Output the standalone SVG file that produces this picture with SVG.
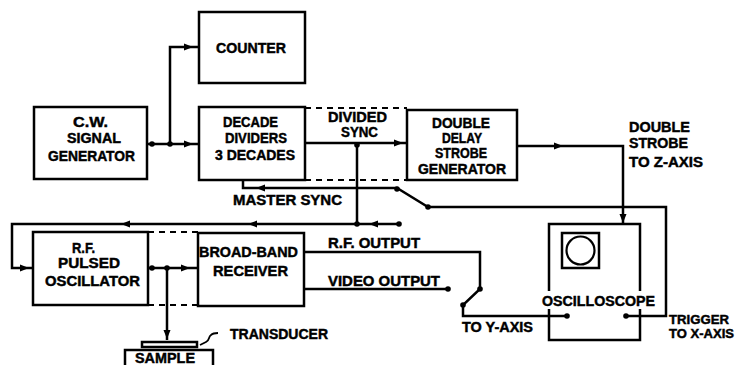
<svg xmlns="http://www.w3.org/2000/svg" xmlns:xlink="http://www.w3.org/1999/xlink" width="736" height="365" viewBox="0 0 736 365">
<style>
.box{fill:none;stroke:#000;stroke-width:2.5}
.ln{fill:none;stroke:#000;stroke-width:2.5;stroke-linejoin:miter}
.dash{fill:none;stroke:#000;stroke-width:2;stroke-dasharray:6 5}
.t{font-family:"Liberation Sans",Arial,sans-serif;font-weight:bold;font-size:14.5px;fill:#000;stroke:#000;stroke-width:0.45}
.s{font-size:13px}
.dot{fill:#000}
</style>
<defs>
<path id="ah" d="M0,0 L-9,-3.5 L-9,3.5 Z" fill="#000"/>
</defs>
<rect width="736" height="365" fill="#fff"/>

<g id="connectors">
<path class="ln" d="M147,144 H199 M170,144 V47 H199"/>
<use xlink:href="#ah" transform="translate(193,47)"/>
<use xlink:href="#ah" transform="translate(193,144)"/>
<circle class="dot" cx="152" cy="144" r="2.8"/>
<circle class="dot" cx="170" cy="144" r="2.8"/>
<path class="ln" d="M305,143 H407 M357,143 V224"/>
<use xlink:href="#ah" transform="translate(403,143)"/>
<circle class="dot" cx="357" cy="145" r="2.8"/>
<path class="dash" d="M305,108 H407 M305,180 H407"/>
<path class="ln" d="M517,146 H623 V224"/>
<use xlink:href="#ah" transform="translate(563,146)"/>
<use xlink:href="#ah" transform="translate(623,223) rotate(90)"/>
<path class="ln" d="M243,180 V188 H397 L428,207 H666 V316 H626"/>
<use xlink:href="#ah" transform="translate(256,188) rotate(180)"/>
<circle class="dot" cx="397" cy="189" r="2.8"/>
<circle class="dot" cx="428" cy="207" r="2.8"/>
<circle class="dot" cx="626" cy="316" r="2.8"/>
<path class="ln" d="M399,224 H12 V268 H33"/>
<circle class="dot" cx="399" cy="224" r="2.8"/>
<circle class="dot" cx="357" cy="224" r="2.8"/>
<use xlink:href="#ah" transform="translate(369,224) rotate(180)"/>
<use xlink:href="#ah" transform="translate(248,224) rotate(180)"/>
<use xlink:href="#ah" transform="translate(121,224) rotate(180)"/>
<use xlink:href="#ah" transform="translate(29,268)"/>
<path class="ln" d="M148,268 H198 M167,268 V340"/>
<circle class="dot" cx="152" cy="268" r="2.8"/>
<circle class="dot" cx="167" cy="268" r="2.8"/>
<use xlink:href="#ah" transform="translate(190,268)"/>
<use xlink:href="#ah" transform="translate(167,339) rotate(90)"/>
<path class="dash" d="M148,232 H198 M148,305 H198"/>
<path class="ln" d="M304,252 H480 V289 L463,305 V316 H567"/>
<path class="ln" d="M304,289 H448"/>
<circle class="dot" cx="448" cy="289" r="2.8"/>
<circle class="dot" cx="480" cy="289" r="2.8"/>
<circle class="dot" cx="463" cy="305" r="2.8"/>
<circle class="dot" cx="567" cy="316" r="2.8"/>
<path fill="none" stroke="#000" stroke-width="1.8" d="M200,345 L206,342 C210,340 208,337 211,335 C213,333 216,333 218,333"/>
</g>

<g id="counter">
<rect class="box" x="199" y="12" width="106" height="71"/>
<text class="t" x="216" y="53" textLength="70" lengthAdjust="spacingAndGlyphs">COUNTER</text>
</g>

<g id="cw-signal-generator">
<rect class="box" x="34" y="107" width="113" height="72"/>
<text class="t" x="73" y="127" textLength="35" lengthAdjust="spacingAndGlyphs">C.W.</text>
<text class="t" x="67" y="143" textLength="54" lengthAdjust="spacingAndGlyphs">SIGNAL</text>
<text class="t" x="48" y="161" textLength="87" lengthAdjust="spacingAndGlyphs">GENERATOR</text>
</g>

<g id="decade-dividers">
<rect class="box" x="199" y="107" width="106" height="73"/>
<text class="t" x="223" y="127" textLength="55" lengthAdjust="spacingAndGlyphs">DECADE</text>
<text class="t" x="225" y="143" textLength="62" lengthAdjust="spacingAndGlyphs">DIVIDERS</text>
<text class="t" x="215" y="160" textLength="80" lengthAdjust="spacingAndGlyphs">3 DECADES</text>
</g>

<g id="double-delay-strobe-generator">
<rect class="box" x="407" y="110" width="110" height="70"/>
<text class="t" x="432" y="128" textLength="58" lengthAdjust="spacingAndGlyphs">DOUBLE</text>
<text class="t" x="442" y="143" textLength="40" lengthAdjust="spacingAndGlyphs">DELAY</text>
<text class="t" x="435" y="158" textLength="52" lengthAdjust="spacingAndGlyphs">STROBE</text>
<text class="t" x="418" y="174" textLength="88" lengthAdjust="spacingAndGlyphs">GENERATOR</text>
</g>

<g id="rf-pulsed-oscillator">
<rect class="box" x="33" y="232" width="115" height="73"/>
<text class="t" x="72" y="253" textLength="23" lengthAdjust="spacingAndGlyphs">R.F.</text>
<text class="t" x="58" y="268" textLength="62" lengthAdjust="spacingAndGlyphs">PULSED</text>
<text class="t" x="45" y="286" textLength="95" lengthAdjust="spacingAndGlyphs">OSCILLATOR</text>
</g>

<g id="broad-band-receiver">
<rect class="box" x="198" y="233" width="106" height="73"/>
<text class="t" x="199" y="257" textLength="99" lengthAdjust="spacingAndGlyphs">BROAD-BAND</text>
<text class="t" x="213" y="276" textLength="75" lengthAdjust="spacingAndGlyphs">RECEIVER</text>
</g>

<g id="oscilloscope">
<path class="box" d="M549,291 V224 H640 V291 M549,309 V340 H640 V309"/>
<rect class="box" x="562" y="233" width="37" height="35"/>
<circle cx="580.5" cy="250.5" r="14" fill="none" stroke="#000" stroke-width="2.2"/>
<text class="t" x="542" y="306" textLength="113" lengthAdjust="spacingAndGlyphs">OSCILLOSCOPE</text>
</g>

<g id="sample">
<rect class="box" x="142" y="342" width="55" height="5" stroke-width="2"/>
<path class="box" d="M125,366 V350 H213 V366"/>
<text class="t" x="135" y="363" textLength="60" lengthAdjust="spacingAndGlyphs">SAMPLE</text>
</g>

<g id="labels">
<text class="t" x="328" y="122" textLength="59" lengthAdjust="spacingAndGlyphs">DIVIDED</text>
<text class="t" x="341" y="137" textLength="37" lengthAdjust="spacingAndGlyphs">SYNC</text>
<text class="t" x="629" y="132" textLength="61" lengthAdjust="spacingAndGlyphs">DOUBLE</text>
<text class="t" x="629" y="148" textLength="59" lengthAdjust="spacingAndGlyphs">STROBE</text>
<text class="t" x="629" y="167" textLength="74" lengthAdjust="spacingAndGlyphs">TO Z-AXIS</text>
<text class="t" x="233" y="205" textLength="109" lengthAdjust="spacingAndGlyphs">MASTER SYNC</text>
<text class="t" x="328" y="248" textLength="92" lengthAdjust="spacingAndGlyphs">R.F. OUTPUT</text>
<text class="t" x="328" y="286" textLength="112" lengthAdjust="spacingAndGlyphs">VIDEO OUTPUT</text>
<text class="t" x="230" y="339" textLength="98" lengthAdjust="spacingAndGlyphs">TRANSDUCER</text>
<text class="t" x="462" y="332" textLength="71" lengthAdjust="spacingAndGlyphs">TO Y-AXIS</text>
<text class="t s" x="669" y="324" textLength="60" lengthAdjust="spacingAndGlyphs">TRIGGER</text>
<text class="t s" x="669" y="338" textLength="65" lengthAdjust="spacingAndGlyphs">TO X-AXIS</text>
</g>
</svg>
